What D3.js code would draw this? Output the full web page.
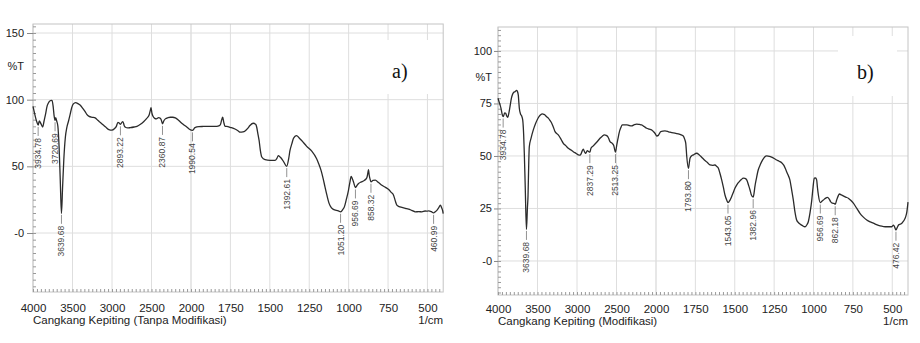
<!DOCTYPE html>
<html><head><meta charset="utf-8">
<script src="https://cdn.jsdelivr.net/npm/d3@7"></script>
<style>body{margin:0;background:#fff}svg{display:block}</style>
</head><body>
<svg id="chart" width="920" height="343"></svg>
<script>
// ---------- DATA ----------
const xTickValues = [4000, 3500, 3000, 2500, 2000, 1750, 1500, 1250, 1000, 750, 500];
const yTicksA = [150, 100, 50, 0];
const yTicksB = [100, 75, 50, 25, 0];
const titleA = "Cangkang Kepiting (Tanpa Modifikasi)";
const titleB = "Cangkang Kepiting (Modifikasi)";
const unitLabel = "1/cm";
const yLabel = "%T";
const tagA = "a)";
const tagB = "b)";

const wavenumbersA = [4000,3985,3965,3950,3935,3920,3900,3877,3860,3845,3820,3795,3770,3759,3745,3733,3721,3712,3700,3685,3670,3655,3640,3625,3610,3590,3572,3550,3530,3510,3489,3460,3430,3404,3370,3340,3319,3290,3250,3213,3180,3150,3110,3080,3040,3000,2970,2945,2925,2910,2893,2875,2862,2845,2830,2800,2769,2720,2684,2640,2600,2560,2530,2515,2506,2495,2481,2460,2439,2410,2389,2375,2361,2345,2325,2290,2262,2230,2198,2165,2135,2100,2050,2020,1991,1975,1950,1922,1880,1837,1820,1812,1805,1799,1792,1784,1765,1752,1721,1700,1689,1670,1657,1640,1626,1605,1590,1583,1575,1568,1560,1551,1530,1499,1467,1455,1446,1435,1425,1410,1393,1380,1372,1360,1351,1340,1330,1315,1298,1266,1234,1203,1190,1175,1162,1150,1137,1124,1110,1097,1065,1051,1035,1027,1015,1001,992,984,976,969,957,945,937,920,906,890,884,878,874,869,863,858,845,831,810,789,766,746,730,715,705,694,680,662,640,620,600,577,555,535,515,500,492,475,461,450,439,428,418,410,403,400];
const transmittanceA = [95,91,86,83,81,84,82,79.5,84,88,95.5,98.5,99.5,99.3,95,88,84.5,86.5,84,80,65,40,14.7,35,55,72,79,84,89,94,96.8,97.8,97,96,93.5,91,89,87.5,86.8,86.3,84.5,83,81,79.5,77.6,77.2,78.2,80,83,82.5,81.5,83,83.6,80.5,79.3,78.8,79,79.5,80,81.5,83.5,86,88.5,92,94,90,87.5,86,85.6,86.5,86,84.5,81.8,84,85.6,86.5,86.8,86.8,86.3,85,83.3,81.5,79.3,77.8,76.9,79,79.8,79.9,80,80,80.5,81.8,85,86.8,83,80,79.8,79.3,78,76.5,75.6,75.8,76.5,78.5,80.6,82.3,81.5,79.3,74,69.4,62,57,55,54.5,54.5,56,58,57,55.7,53,50,56,61.9,67,70.7,72.5,73.1,71.5,69.4,65,61.4,55.7,52,47,41,34.6,28,22.2,19,17.7,16.6,15.9,18,19.6,25,32,38,42.5,40.5,38.3,34.1,36,37.1,38.3,39,40.5,41.6,45,47.5,43,40,38.3,39.5,39.6,37.8,35.8,34.2,32.6,30.5,28.4,24.5,20.9,19.8,19.2,18.5,17.9,17,15.9,16,15.9,16.5,16.4,16.6,16,15.1,16,17.2,19,20.9,19,16.5,14.5];
const peaksA = [3934.78, 3720.69, 3639.68, 2893.22, 2360.87, 1990.54, 1392.61, 1051.20, 956.69, 858.32, 460.99];

const wavenumbersB = [4000,3980,3962,3945,3934,3915,3903,3890,3877,3862,3848,3830,3819,3800,3785,3765,3755,3743,3735,3730,3715,3700,3687,3675,3667,3655,3640,3628,3620,3610,3604,3582,3553,3523,3500,3481,3460,3439,3420,3405,3385,3363,3340,3320,3300,3278,3237,3200,3173,3140,3110,3075,3047,3010,2983,2960,2949,2935,2920,2905,2890,2870,2850,2837,2823,2800,2772,2740,2709,2680,2654,2630,2611,2595,2582,2553,2535,2513,2497,2480,2468,2445,2426,2400,2371,2340,2308,2280,2245,2210,2182,2150,2118,2085,2055,2030,2013,1995,1985,1970,1943,1920,1900,1880,1858,1840,1827,1818,1811,1805,1794,1788,1784,1775,1763,1742,1725,1710,1693,1675,1657,1640,1626,1614,1604,1595,1583,1572,1562,1550,1543,1530,1520,1510,1499,1485,1471,1458,1446,1435,1424,1412,1403,1395,1383,1377,1372,1362,1351,1337,1323,1310,1297,1280,1266,1250,1234,1218,1202,1188,1175,1162,1150,1139,1128,1118,1107,1095,1086,1070,1054,1040,1033,1022,1011,1003,995,987,980,975,969,957,945,938,925,912,900,891,880,870,862,853,843,836,822,811,795,779,762,747,725,705,685,662,640,620,600,577,555,535,515,503,492,484,477,468,460,450,439,430,424,415,407,400];
const transmittanceB = [77.5,75,72.7,69.5,68.7,70.5,70.3,69,68.4,70.5,73.5,77.5,79,80.3,80.6,81.2,80.8,79,75,72.7,70,69,67.1,60,51.3,35,15,25,31,48,54.4,58.4,62.4,65.6,67.5,68.7,69.6,70,69.8,69.5,68.7,68,66.8,65.6,63.8,61.6,60,57.8,56,54.8,53.7,52.8,52,51.2,50.5,50.4,51,52.3,53.2,52,51.2,52.5,52,51.8,53.7,54.6,55.7,57,58.4,59.4,60,59.8,59.2,58,56.8,56,55,51.8,55.2,58.5,60.8,63.5,64.8,64.8,64.8,64.5,64.3,64.8,65.2,65,64.8,64,63.2,62.8,62.4,61.5,60.8,59.5,59.8,61.6,61.9,61.5,61.1,60.9,60.5,60,59.5,58,56,50,44.1,47,48.9,50,50.5,51.3,50.5,49.4,48.1,47,45.7,45.5,45.7,45,44.1,42,38.6,35,31.4,28.8,27.8,29,30.6,32.5,34.6,36.5,37.8,38.8,39.4,39.3,38.6,36,33.8,31.5,30.4,32.5,35.4,39.5,43.3,46,48.1,49.5,50,49.8,49.4,48.8,48.1,47.5,46.8,45.5,43.3,41,38.6,34,29,23.5,19.5,18.2,17.6,16.8,16.3,17.5,18.7,23,29,35,39.4,39.5,38.6,35,31.4,27.8,28.6,29,29.8,30.3,29.5,28.2,27.5,27.4,27,29,31,31.9,31.4,31,30.4,29.9,28.8,27.5,25,22.7,21,19.5,18.6,18,17.3,16.7,16.4,16.3,16.3,16.3,17.1,16,14.8,16,17.1,17.5,18,18.8,19.5,21,23.5,28];
const peaksB = [3934.78, 3639.68, 2837.29, 2513.25, 1793.80, 1543.05, 1382.96, 956.69, 862.18, 476.42];

// ---------- DRAW ----------
const svg = d3.select("#chart");
const FONT = "'Liberation Sans', Arial, sans-serif";

function interp(ws, ts, w) {
  for (let i = 0; i < ws.length - 1; i++) {
    if (w <= ws[i] && w >= ws[i + 1]) {
      const t = (ws[i] - w) / (ws[i] - ws[i + 1]);
      return ts[i] + t * (ts[i + 1] - ts[i]);
    }
  }
  return ts[ts.length - 1];
}

function panel(o) {
  const g = svg.append("g");
  const x = d3.scaleLinear().domain([4000, 2000, 400]).range([o.x0, o.x2000, o.x1]);
  const y = d3.scaleLinear().domain(o.yDomain).range([o.y1, o.y0]);

  // grid
  g.append("g").selectAll("line").data(xTickValues).join("line")
    .attr("x1", d => x(d)).attr("x2", d => x(d)).attr("y1", o.y0).attr("y2", o.y1)
    .attr("stroke", d => d === 2000 ? "#cfcfcf" : "#dedede").attr("stroke-width", 1);
  g.append("g").selectAll("line").data(o.yTicks).join("line")
    .attr("x1", o.x0).attr("x2", o.x1).attr("y1", d => y(d)).attr("y2", d => y(d))
    .attr("stroke", "#dedede").attr("stroke-width", 1);

  // tag box
  g.append("rect").attr("x", o.tagBox[0]).attr("y", o.tagBox[1])
    .attr("width", o.tagBox[2]).attr("height", o.tagBox[3]).attr("fill", "#fff");
  g.append("text").text(o.tag).attr("x", o.tagPos[0]).attr("y", o.tagPos[1])
    .attr("font-family", "'Liberation Serif', 'Times New Roman', serif")
    .attr("font-size", 20).attr("fill", "#111");

  // frame
  g.append("rect").attr("x", o.x0).attr("y", o.y0)
    .attr("width", o.x1 - o.x0).attr("height", o.y1 - o.y0)
    .attr("fill", "none").attr("stroke", "#c4c4c4");

  // minor ticks
  const minorY = d3.range(Math.ceil(o.yDomain[0] / o.minorStep) * o.minorStep, o.yDomain[1], o.minorStep);
  g.append("g").attr("transform", `translate(${o.x0},0)`)
    .call(d3.axisRight(y).tickValues(minorY).tickSize(3).tickFormat(""))
    .call(s => s.select(".domain").remove())
    .selectAll("line").attr("stroke", "#9a9a9a");
  const minorX = [...d3.range(4000, 2000, -50), ...d3.range(2000, 400, -25)];
  g.append("g").attr("transform", `translate(0,${o.y1})`)
    .call(d3.axisTop(x).tickValues(minorX).tickSize(3).tickFormat(""))
    .call(s => s.select(".domain").remove())
    .selectAll("line").attr("stroke", "#9a9a9a");

  // y axis labels
  const ya = g.append("g").attr("transform", `translate(${o.x0},0)`)
    .call(d3.axisLeft(y).tickValues(o.yTicks).tickSize(o.yTickLen).tickPadding(o.yPad)
      .tickFormat(d => d === 0 ? "-0" : String(d)));
  ya.select(".domain").remove();
  ya.selectAll("line").attr("stroke", "#888");
  ya.selectAll("text").attr("font-family", FONT).attr("font-size", 11).attr("fill", "#222");
  g.append("text").text(yLabel).attr("x", o.x0 - o.yTickLen - o.yPad).attr("y", y(o.yLabelAt))
    .attr("dy", "0.32em").attr("text-anchor", "end")
    .attr("font-family", FONT).attr("font-size", 11).attr("fill", "#222");

  // x axis labels
  const xa = g.append("g").attr("transform", `translate(0,${o.y1})`)
    .call(d3.axisBottom(x).tickValues(xTickValues).tickSize(0).tickFormat(d => String(d)));
  xa.select(".domain").remove();
  xa.selectAll("text").attr("y", o.xLabelDy).attr("dy", null)
    .attr("font-family", FONT).attr("font-size", 11.5).attr("fill", "#222");

  g.append("text").text(o.title).attr("x", o.x0).attr("y", o.titleY)
    .attr("font-family", FONT).attr("font-size", 11.5).attr("fill", "#222");
  g.append("text").text(unitLabel).attr("x", o.x1).attr("y", o.titleY).attr("text-anchor", "end")
    .attr("font-family", FONT).attr("font-size", 11.5).attr("fill", "#222");

  // spectrum
  const data = o.w.map((w, i) => [w, o.t[i]]);
  g.append("path").datum(data)
    .attr("d", d3.line().x(d => x(d[0])).y(d => y(d[1])).curve(d3.curveMonotoneX))
    .attr("fill", "none").attr("stroke", "#2b2b2b").attr("stroke-width", 1.3)
    .attr("stroke-linejoin", "round");

  // peak labels
  const pk = g.append("g").selectAll("g").data(o.peaks).join("g")
    .attr("transform", d => `translate(${x(d)},${y(interp(o.w, o.t, d))})`);
  pk.append("line").attr("x1", 0).attr("x2", 0).attr("y1", 2).attr("y2", 11)
    .attr("stroke", "#777").attr("stroke-width", 0.8);
  pk.append("text").text(d => d.toFixed(2))
    .attr("transform", "translate(0,13) rotate(-90)")
    .attr("text-anchor", "end").attr("dy", "0.35em")
    .attr("font-family", FONT).attr("font-size", 8.5).attr("fill", "#444");
}

panel({
  x0: 33, x2000: 191, x1: 443.2, y0: 24, y1: 292,
  yDomain: [-44.25, 156.75], yTicks: yTicksA, minorStep: 5, yLabelAt: 125,
  yTickLen: 6, yPad: 3, xLabelDy: 19.5, titleY: 324,
  w: wavenumbersA, t: transmittanceA, peaks: peaksA,
  title: titleA, tag: tagA, tagBox: [380, 40, 57, 54], tagPos: [392, 77.5]
});
panel({
  x0: 498, x2000: 656, x1: 908, y0: 27, y1: 295,
  yDomain: [-16.2, 111.4], yTicks: yTicksB, minorStep: 2.5, yLabelAt: 87.5,
  yTickLen: 4, yPad: 2, xLabelDy: 17.5, titleY: 325,
  w: wavenumbersB, t: transmittanceB, peaks: peaksB,
  title: titleB, tag: tagB, tagBox: [838, 36, 59, 60], tagPos: [857, 79]
});
</script>
</body></html>
